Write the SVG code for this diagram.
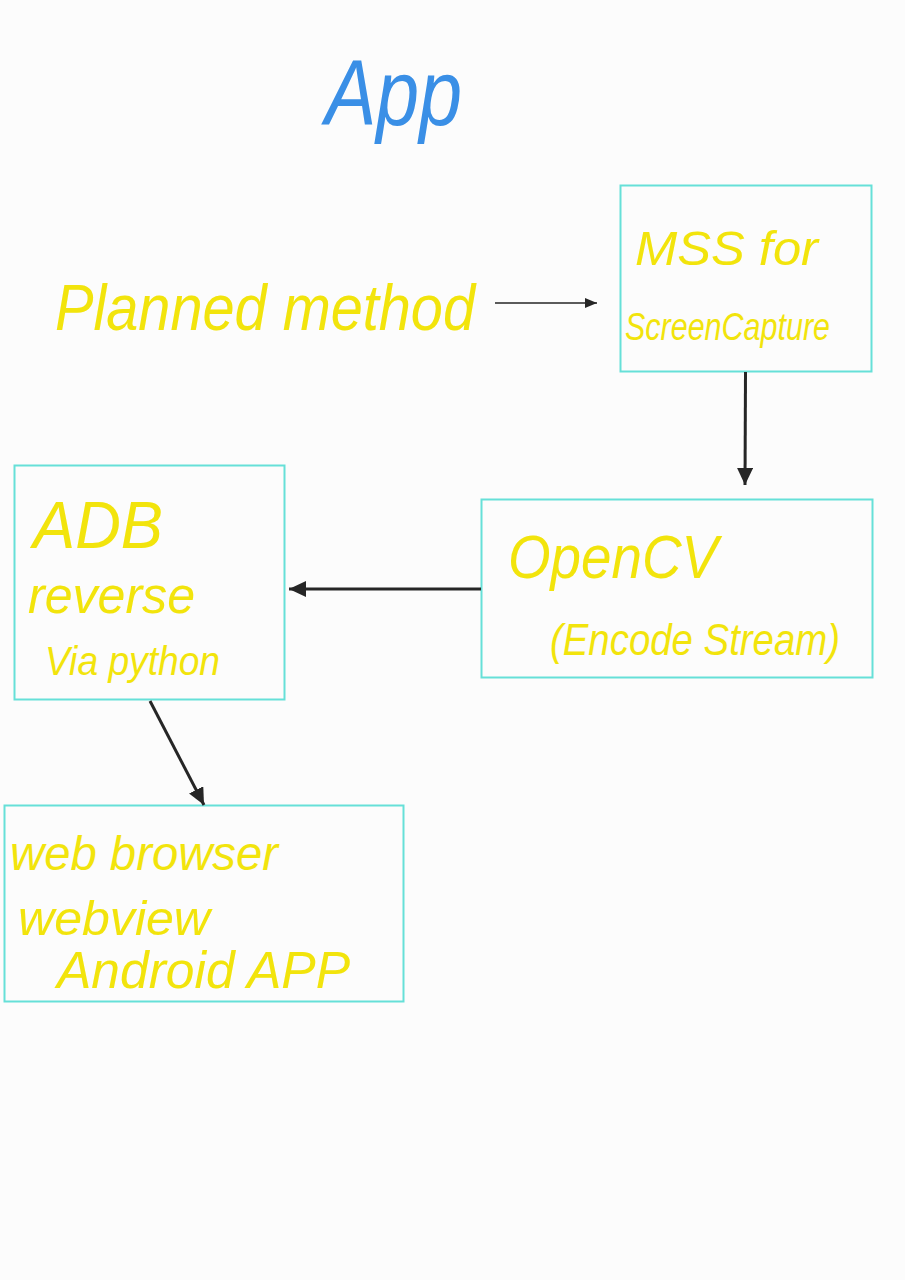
<svg xmlns="http://www.w3.org/2000/svg" width="905" height="1280" viewBox="0 0 905 1280">
<style>
.bg{fill:#fcfcfc}
.box{fill:none;stroke:#66e0d8;stroke-width:2}
.hw{font-family:"Liberation Sans","DejaVu Sans",sans-serif;font-style:italic;fill:#f2e40c;lengthAdjust:spacingAndGlyphs}
.title{font-family:"Liberation Sans","DejaVu Sans",sans-serif;font-style:italic;fill:#3a8fe6}
.conn{stroke:#262626;fill:none}
</style>
<defs>
<marker id="ahs" markerUnits="userSpaceOnUse" markerWidth="14" markerHeight="12" refX="12" refY="5" orient="auto">
<path d="M0,0 L12,5 L0,10 Z" fill="#262626"/>
</marker>
<marker id="ahl" markerUnits="userSpaceOnUse" markerWidth="20" markerHeight="18" refX="17" refY="8" orient="auto">
<path d="M0,0 L17,8 L0,16 Z" fill="#262626"/>
</marker>
</defs>
<rect class="bg" width="905" height="1280"/>
<g id="title"><text class="title" x="325" y="125" font-size="92" textLength="137" lengthAdjust="spacingAndGlyphs">App</text></g>
<g id="planned"><text class="hw" x="55" y="330" font-size="64" textLength="420" lengthAdjust="spacingAndGlyphs">Planned method</text></g>
<g id="mss">
<rect class="box" x="620.5" y="185.5" width="251" height="186"/>
<text class="hw" x="635" y="265" font-size="48" textLength="183" lengthAdjust="spacingAndGlyphs">MSS for</text>
<text class="hw" x="625" y="340" font-size="38" textLength="205" lengthAdjust="spacingAndGlyphs">ScreenCapture</text>
</g>
<g id="opencv">
<rect class="box" x="481.5" y="499.5" width="391" height="178"/>
<text class="hw" x="508" y="578" font-size="62" textLength="210" lengthAdjust="spacingAndGlyphs">OpenCV</text>
<text class="hw" x="550" y="655" font-size="44" textLength="290" lengthAdjust="spacingAndGlyphs">(Encode Stream)</text>
</g>
<g id="adb">
<rect class="box" x="14.5" y="465.5" width="270" height="234"/>
<text class="hw" x="33" y="548" font-size="66" textLength="130" lengthAdjust="spacingAndGlyphs">ADB</text>
<text class="hw" x="28" y="613" font-size="52" textLength="167" lengthAdjust="spacingAndGlyphs">reverse</text>
<text class="hw" x="45" y="675" font-size="40" textLength="175" lengthAdjust="spacingAndGlyphs">Via python</text>
</g>
<g id="web">
<rect class="box" x="4.5" y="805.5" width="399" height="196"/>
<text class="hw" x="10" y="870" font-size="48" textLength="268" lengthAdjust="spacingAndGlyphs">web browser</text>
<text class="hw" x="18" y="935" font-size="48" textLength="192" lengthAdjust="spacingAndGlyphs">webview</text>
<text class="hw" x="57" y="988" font-size="52" textLength="293" lengthAdjust="spacingAndGlyphs">Android APP</text>
</g>
<g id="connectors">
<line class="conn" x1="495" y1="303" x2="597" y2="303" stroke-width="1.5" marker-end="url(#ahs)"/>
<line class="conn" x1="745.5" y1="372" x2="745" y2="485" stroke-width="3" marker-end="url(#ahl)"/>
<line class="conn" x1="481" y1="589" x2="289" y2="589" stroke-width="3" marker-end="url(#ahl)"/>
<line class="conn" x1="150" y1="701" x2="204" y2="805" stroke-width="3" marker-end="url(#ahl)"/>
</g>
</svg>
